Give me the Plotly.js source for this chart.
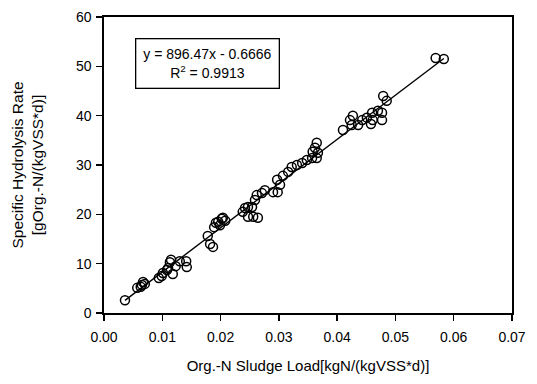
<!DOCTYPE html>
<html>
<head>
<meta charset="utf-8">
<script src="https://cdn.plot.ly/plotly-3.0.1.min.js"></script>
<style>html,body{margin:0;padding:0;background:#fff;}#chart{width:537px;height:384px;}</style>
</head>
<body>
<div id="chart"></div>
<script>
const loadX = [0.0036,0.0057,0.0063,0.0065,0.0067,0.0070,0.0094,0.0099,0.0101,0.0108,0.0110,0.0113,0.0115,0.0118,0.0123,0.0130,0.0141,0.0142,
  0.0178,0.0182,0.0187,0.0189,0.0192,0.0196,0.0202,0.0204,0.0208,0.0199,
  0.0238,0.0242,0.0247,0.0254,0.0259,0.0262,0.0271,0.0276,0.0247,0.0256,0.0264,0.0290,0.0297,0.0302,0.0298,
  0.0307,0.0316,0.0322,0.0331,0.0340,0.0348,0.0357,0.0365,0.0367,0.0358,0.0362,0.0365,
  0.0410,0.0422,0.0427,0.0425,0.0436,0.0443,0.0451,0.0460,0.0461,0.0458,0.0470,0.0477,0.0477,0.0479,0.0485,
  0.0569,0.0583];
const rateY = [2.6,5.1,5.3,5.7,6.3,5.9,7.1,7.5,8.1,8.7,9.1,10.3,10.8,7.9,9.5,10.5,10.5,9.3,
  15.6,14.0,13.4,17.4,18.3,18.5,19.1,19.3,18.7,17.8,
  20.5,21.3,21.5,21.5,22.9,23.9,24.3,24.9,19.5,19.5,19.3,24.5,27.0,26.0,24.5,
  27.8,28.6,29.6,30.0,30.4,31.0,31.4,31.4,32.5,32.7,33.5,34.5,
  37.1,39.1,40.0,38.1,38.1,39.1,39.6,40.6,39.1,38.3,41.0,40.6,39.1,44.0,43.0,
  51.7,51.5];
const slope = 896.47, intercept = -0.6666, r2 = 0.9913;
const xTicks = [0,0.01,0.02,0.03,0.04,0.05,0.06,0.07];
const xTickText = ["0.00","0.01","0.02","0.03","0.04","0.05","0.06","0.07"];
const yTicks = [0,10,20,30,40,50,60];

const xMin = Math.min(...loadX), xMax = Math.max(...loadX);
const fitX = [xMin, xMax];
const fitY = fitX.map(v => slope*v + intercept);

const font = {family:'"Liberation Sans", Arial, sans-serif', color:'#000', size:14};
const data = [
  {x: fitX, y: fitY, mode:'lines', line:{color:'#000', width:1.4}, hoverinfo:'skip', showlegend:false},
  {x: loadX, y: rateY, mode:'markers', marker:{symbol:'circle-open', size:9, color:'#000', line:{width:1.5, color:'#000'}}, showlegend:false}
];
const layout = {
  width:537, height:384,
  margin:{l:104, r:25, t:17, b:71},
  paper_bgcolor:'#fff', plot_bgcolor:'#fff',
  font: font,
  showlegend:false,
  xaxis:{range:[0,0.07], tickvals:xTicks, ticktext:xTickText, ticks:'outside', ticklen:6, tickwidth:1.5, tickcolor:'#000',
    ticklabelstandoff:4,
    showline:true, linecolor:'#000', linewidth:1.7, mirror:true, showgrid:false, zeroline:false,
    tickfont:{size:14}, title:{text:'Org.-N Sludge Load[kgN/(kgVSS*d)]', font:{size:15}, standoff:17}},
  yaxis:{range:[0,60], tickvals:yTicks, ticks:'outside', ticklen:6, tickwidth:1.5, tickcolor:'#000',
    ticklabelstandoff:2,
    showline:true, linecolor:'#000', linewidth:1.7, mirror:true, showgrid:false, zeroline:false,
    tickfont:{size:14}, title:{text:'Specific Hydrolysis Rate<br>[gOrg.-N/(kgVSS*d)]', font:{size:15.5}, standoff:28}},
  annotations:[{xref:'paper', yref:'paper', x:(207.5-104)/408, y:(313-63.5)/296, xanchor:'center', yanchor:'middle',
    text:'y = ' + slope + 'x - ' + Math.abs(intercept) + '<br>R<sup>2</sup> = ' + r2, showarrow:false,
    font:{size:14}, align:'center', bordercolor:'#000', borderwidth:1.3, borderpad:7, bgcolor:'#fff'}]
};
Plotly.newPlot('chart', data, layout, {displayModeBar:false, staticPlot:true});
</script>
</body>
</html>
